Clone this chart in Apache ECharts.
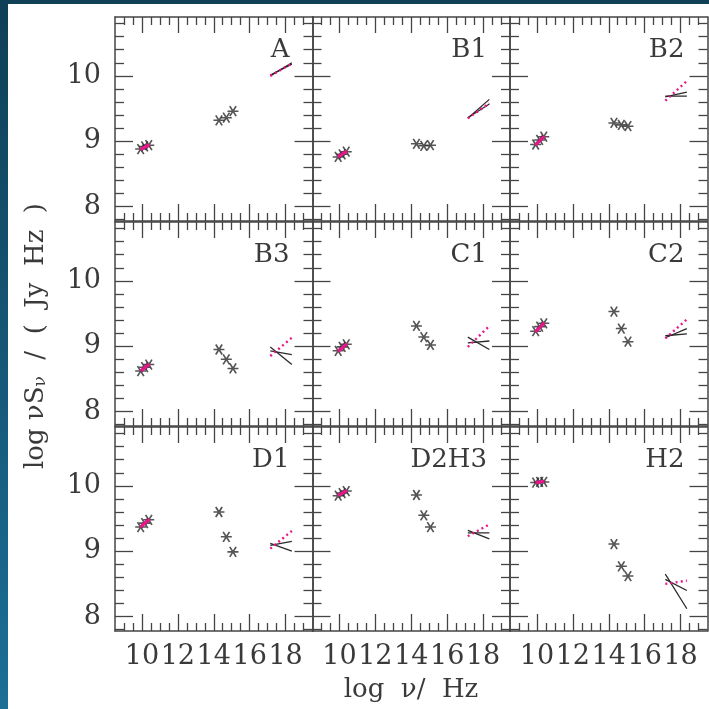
<!DOCTYPE html>
<html><head><meta charset="utf-8">
<script src="https://cdn.jsdelivr.net/npm/echarts@6/dist/echarts.min.js"></script>
<style>html,body{margin:0;padding:0;background:#fff}#c{width:709px;height:709px}</style>
</head><body><div id="c"></div><script>
// ---- data ----
const panelNames = ['A', 'B1', 'B2', 'B3', 'C1', 'C2', 'D1', 'D2H3', 'H2'];
const radioX = [9.93, 10.15, 10.38];
const radioY = [
  [8.88, 8.92, 8.94], [8.76, 8.80, 8.84], [8.95, 9.02, 9.07],
  [8.62, 8.68, 8.72], [8.93, 8.99, 9.03], [9.23, 9.30, 9.35],
  [9.37, 9.43, 9.48], [9.85, 9.89, 9.92], [10.05, 10.06, 10.06]
];
const radioFitX = [9.92, 10.42];
const radioFitY = [
  [8.87, 8.95], [8.76, 8.85], [8.94, 9.08],
  [8.62, 8.73], [8.92, 9.04], [9.22, 9.36],
  [9.37, 9.49], [9.85, 9.93], [10.05, 10.07]
];
const opticalX = [14.29, 14.70, 15.07];
const opticalY = [
  [9.32, 9.36, 9.46], [8.96, 8.93, 8.94], [9.28, 9.25, 9.23],
  [8.95, 8.80, 8.66], [9.31, 9.14, 9.02], [9.53, 9.27, 9.07],
  [9.60, 9.22, 8.99], [9.86, 9.55, 9.37], [9.11, 8.77, 8.62]
];
const xrayX = [17.15, 18.35];
const xrayLine1 = [
  [10.00, 10.20], [9.35, 9.64], [9.68, 9.75],
  [8.99, 8.72], [9.05, 9.08], [9.13, 9.27],
  [9.09, 9.15], [9.28, 9.28], [8.65, 8.12]
];
const xrayLine2 = [
  [10.01, 10.18], [9.36, 9.57], [9.69, 9.69],
  [8.93, 8.87], [9.14, 8.95], [9.16, 9.19],
  [9.12, 9.00], [9.32, 9.19], [8.57, 8.40]
];
const xrayPink = [
  [10.00, 10.19], [9.35, 9.58], [9.62, 9.92],
  [8.85, 9.13], [8.99, 9.31], [9.12, 9.41],
  [9.04, 9.31], [9.23, 9.41], [8.50, 8.55]
];
const xMajorTicks = [10, 12, 14, 16, 18];
const xMinorTicks = [9, 9.5, 10.5, 11, 11.5, 12.5, 13, 13.5, 14.5, 15, 15.5, 16.5, 17, 17.5, 18.5, 19];
const yMajorTicks = [8, 9, 10];
const yMinorTicks = [7.8, 8.2, 8.4, 8.6, 8.8, 9.2, 9.4, 9.6, 9.8, 10.2, 10.4, 10.6, 10.8];

// ---- layout ----
const colLeft = [115, 312.5, 510], colW = 197.5;
const rowTop = [17, 222, 427], rowH = 204;
const X_MIN = 8.5, X_MAX = 19.5, Y_MIN = 7.78, Y_MAX = 10.9;
const frameColor = '#444', textColor = '#3a3a3a', pink = '#e8168a', black = '#2a2a2a';
const FONT = 'DejaVu Serif';
const asterisk = 'path://M-5,0L5,0M-2.9,-4.1L2.9,4.1M-2.9,4.1L2.9,-4.1';

const grids = [], xAxes = [], yAxes = [], series = [], graphics = [];

function mkX(g, pos, ticks, len, isMain, labels) {
  xAxes.push({
    type: 'value', gridIndex: g, position: pos, min: X_MIN, max: X_MAX,
    axisLine: { show: isMain, onZero: false, lineStyle: { color: frameColor, width: 1.5 } },
    axisTick: { show: true, inside: true, length: len, customValues: ticks, lineStyle: { color: frameColor, width: 1.3 } },
    axisLabel: labels ? { show: true, customValues: ticks, margin: 12, color: textColor, fontFamily: FONT, fontSize: 27 } : { show: false },
    splitLine: { show: false }
  });
  return xAxes.length - 1;
}
function mkY(g, pos, ticks, len, isMain, labels) {
  yAxes.push({
    type: 'value', gridIndex: g, position: pos, min: Y_MIN, max: Y_MAX,
    axisLine: { show: isMain, onZero: false, lineStyle: { color: frameColor, width: 1.5 } },
    axisTick: { show: true, inside: true, length: len, customValues: ticks, lineStyle: { color: frameColor, width: 1.3 } },
    axisLabel: labels ? { show: true, customValues: ticks, margin: 14, color: textColor, fontFamily: FONT, fontSize: 27 } : { show: false },
    splitLine: { show: false }
  });
  return yAxes.length - 1;
}
const zip = (xs, ys) => xs.map((x, k) => [x, ys[k]]);

panelNames.forEach((name, i) => {
  const r = Math.floor(i / 3), c = i % 3;
  grids.push({ left: colLeft[c], top: rowTop[r], width: colW, height: rowH, containLabel: false, outerBoundsMode: 'none' });
  const xi = mkX(i, 'bottom', xMajorTicks, 17, true, r === 2);
  mkX(i, 'bottom', xMinorTicks, 8, false, false);
  mkX(i, 'top', xMajorTicks, 16, true, false);
  mkX(i, 'top', xMinorTicks, 8, false, false);
  const yi = mkY(i, 'left', yMajorTicks, 18, true, c === 0);
  mkY(i, 'left', yMinorTicks, 9, false, false);
  mkY(i, 'right', yMajorTicks, 18, true, false);
  mkY(i, 'right', yMinorTicks, 9, false, false);

  const sym = { type: 'scatter', xAxisIndex: xi, yAxisIndex: yi, symbol: asterisk, symbolSize: [11, 10],
    itemStyle: { color: 'none', borderColor: black, borderWidth: 1.6 }, silent: true };
  series.push(Object.assign({}, sym, { data: zip(radioX, radioY[i]) }));
  series.push(Object.assign({}, sym, { data: zip(opticalX, opticalY[i]) }));
  series.push({ type: 'line', xAxisIndex: xi, yAxisIndex: yi, data: zip(radioFitX, radioFitY[i]), showSymbol: false,
    lineStyle: { color: pink, width: 3.2 }, silent: true });
  series.push({ type: 'line', xAxisIndex: xi, yAxisIndex: yi, data: zip(xrayX, xrayLine1[i]), showSymbol: false,
    lineStyle: { color: black, width: 1.3 }, silent: true });
  series.push({ type: 'line', xAxisIndex: xi, yAxisIndex: yi, data: zip(xrayX, xrayLine2[i]), showSymbol: false,
    lineStyle: { color: black, width: 1.3 }, silent: true });
  series.push({ type: 'line', xAxisIndex: xi, yAxisIndex: yi, data: zip(xrayX, xrayPink[i]), showSymbol: false,
    lineStyle: { color: pink, width: 2.4, type: [2, 3.2] }, silent: true });

  graphics.push({ type: 'text', x: colLeft[c] + colW - 23, y: rowTop[r] + 33,
    style: { text: name, fill: textColor, font: '26px "' + FONT + '"', textAlign: 'right', textVerticalAlign: 'middle' } });
});

// decorative border bands
graphics.push({ type: 'rect', shape: { x: 0, y: 0, width: 709, height: 4 }, style: { fill: '#0f4058' }, z: 10 });
graphics.push({ type: 'rect', shape: { x: 0, y: 0, width: 8, height: 709 },
  style: { fill: new echarts.graphic.LinearGradient(0, 0, 0, 1, [{ offset: 0, color: '#0f3f57' }, { offset: 1, color: '#1c6f96' }]) }, z: 10 });

// axis titles
graphics.push({ type: 'text', x: 36, y: 336, rotation: Math.PI / 2,
  style: { text: '{a|log νS}{s|ν}{a|  /  (  Jy  Hz  )}', textAlign: 'center', textVerticalAlign: 'middle',
    rich: { a: { fontFamily: FONT, fontSize: 26, fill: textColor, color: textColor },
            s: { fontFamily: FONT, fontSize: 17, fill: textColor, color: textColor, verticalAlign: 'bottom', padding: [10, 0, 0, 0] } } } });
graphics.push({ type: 'text', x: 411, y: 690,
  style: { text: 'log  ν/  Hz', fill: textColor, font: '26px "' + FONT + '"', textAlign: 'center', textVerticalAlign: 'middle' } });

const chart = echarts.init(document.getElementById('c'), null, { renderer: 'canvas' });
chart.setOption({
  backgroundColor: '#fff', animation: false,
  grid: grids, xAxis: xAxes, yAxis: yAxes, series: series, graphic: graphics
});
</script></body></html>
